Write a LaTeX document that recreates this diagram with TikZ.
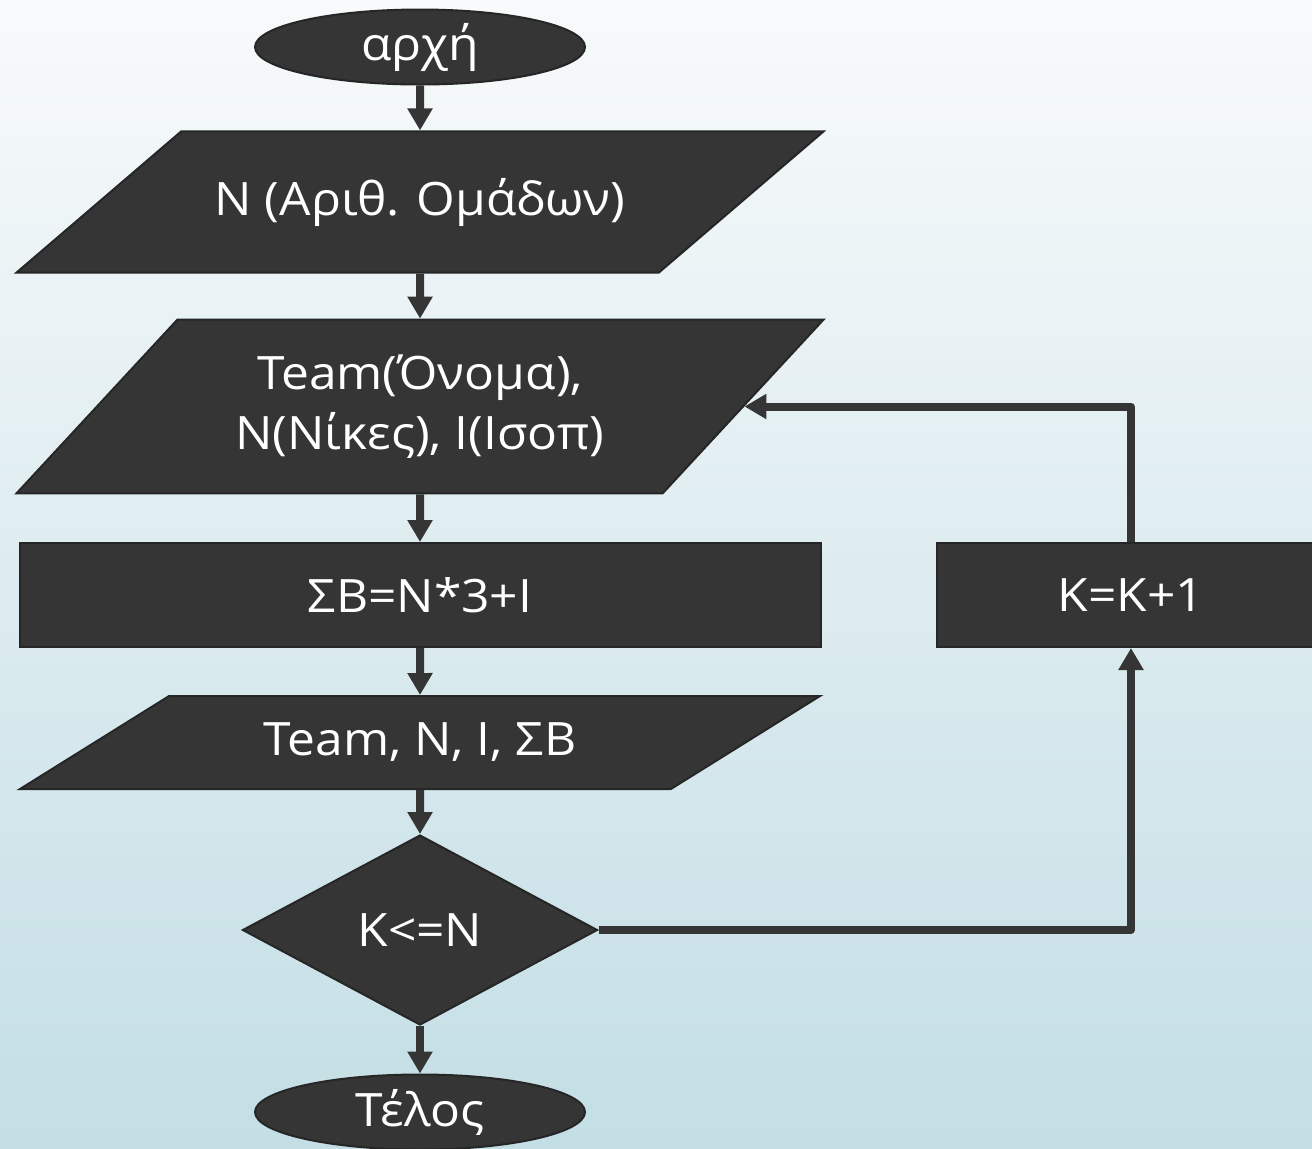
\documentclass[tikz,border=0pt]{standalone}
\usepackage{fontspec}
\setmainfont{Open Sans}[FakeStretch=1.08]
\usetikzlibrary{shapes.geometric,arrows.meta}

\definecolor{boxfill}{HTML}{353535}
\definecolor{boxline}{HTML}{262626}
\definecolor{bgtop}{HTML}{F8FAFB}
\definecolor{bgbottom}{HTML}{C3DEE5}

\tikzset{
  box/.style={fill=boxfill, draw=boxline, line width=1pt, text=white,
    inner sep=0pt, align=center, font=\fontsize{23}{30}\selectfont},
  terminal/.style={box, ellipse, minimum width=165pt, minimum height=37.5pt},
  io/.style={box, trapezium, trapezium stretches body=true},
  process/.style={box, rectangle, minimum height=52pt},
  decision/.style={box, diamond, minimum width=177.5pt, minimum height=95pt},
  flow/.style={draw=boxfill, line width=4pt, line join=round,
    -{Triangle[length=11pt,width=12pt]}}
}

\begin{document}
\begin{tikzpicture}[x=0.5pt,y=-0.5pt]
  %% Background
  \shade[top color=bgtop, bottom color=bgbottom] (0,0) rectangle (1312,1148);
  \useasboundingbox (0,0) rectangle (1312,1148);

  %% Main column of the flow chart
  \node[terminal] (start) at (420,47) {αρχή};
  \node[io, trapezium left angle=40.6, trapezium right angle=139.4, inner ysep=23.25pt,
        minimum width=403.5pt, minimum height=70pt] (readN) at (420,202) {N (Αριθ. Ομάδων)};
  \node[io, trapezium left angle=47.2, trapezium right angle=132.8, inner ysep=17.5pt,
        minimum width=403.5pt, minimum height=86.5pt] (readTeam) at (420,406.5) {Team(Όνομα),\\N(Νίκες), I(Ισοπ)};
  \node[process, minimum width=400.5pt] (calc) at (420,595) {ΣΒ=N*3+I};
  \node[io, trapezium left angle=30.2, trapezium right angle=149.8, inner ysep=12pt,
        minimum width=400pt, minimum height=46.5pt] (printTeam) at (420,742.5) {Team, N, I, ΣΒ};
  \node[decision] (check) at (420,930) {K<=N};
  \node[terminal] (stop) at (420,1112) {Τέλος};

  %% Counter box on the right
  \node[process, minimum width=194pt] (incK) at (1131,595) {K=K+1};

  %% Connectors down the column
  \foreach \a/\b in {start/readN,readN/readTeam,readTeam/calc,calc/printTeam,printTeam/check,check/stop}
    \draw[flow] (\a.south) -- (\b.north);

  %% Loop back
  \draw[flow] (check.east) -| (incK.south);
  \draw[flow] (incK.north) |- (readTeam.east);
\end{tikzpicture}
\end{document}
